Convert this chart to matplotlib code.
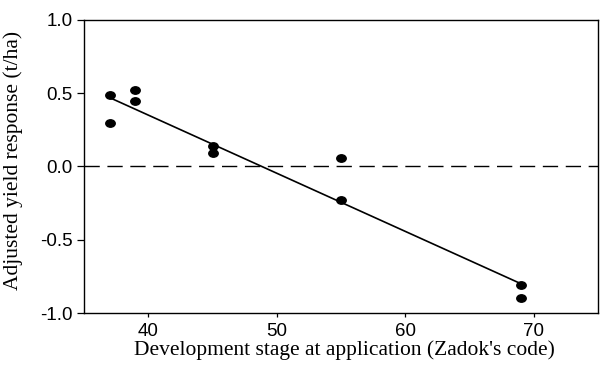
import numpy as np
import matplotlib
matplotlib.use("Agg")
import matplotlib.pyplot as plt
from matplotlib.path import Path

# Data
stage = [37, 37, 39, 39, 45, 45, 55, 55, 69, 69]
response = [0.49, 0.30, 0.52, 0.45, 0.14, 0.09, 0.06, -0.23, -0.81, -0.90]
fit_stage = [37, 69]
fit_response = [0.47, -0.80]
xticks = [40, 50, 60, 70]
yticks = [-1.0, -0.5, 0.0, 0.5, 1.0]
ytick_labels = ["-1.0", "-0.5", "0.0", "0.5", "1.0"]
xlabel = "Development stage at application (Zadok's code)"
ylabel = "Adjusted yield response (t/ha)"

W, H = 602, 366
fig = plt.figure(figsize=(W / 100, H / 100), dpi=100)
ax = fig.add_axes([84 / W, 1 - 313 / H, (598 - 84) / W, (313 - 20) / H])

# ellipse marker (slightly wider than tall)
circ = Path.unit_circle()
ell = Path(circ.vertices * np.array([1.27, 1.0]), circ.codes)

ax.axhline(0, color="black", lw=1.0, dashes=(11, 5.5), zorder=1)
ax.plot(fit_stage, fit_response, color="black", lw=1.2, zorder=2)
ax.plot(stage, response, linestyle="none", marker=ell, markersize=6.8,
        color="black", zorder=3)

ax.set_xlim(35, 75)
ax.set_ylim(-1.0, 1.0)
ax.set_xticks(xticks)
ax.set_yticks(yticks)
ax.set_yticklabels(ytick_labels)

for s in ax.spines.values():
    s.set_linewidth(1.0)

ax.tick_params(axis="x", direction="out", length=3, width=0.9, pad=4.5,
               labelsize=13.5)
ax.tick_params(axis="y", direction="out", length=5, width=0.9, pad=3,
               labelsize=13.5)
for lab in ax.get_xticklabels() + ax.get_yticklabels():
    lab.set_fontfamily("Liberation Sans")

ax.set_xlabel(xlabel, fontfamily="Liberation Serif", fontsize=15.5)
ax.set_ylabel(ylabel, fontfamily="Liberation Serif", fontsize=15.5)
ax.xaxis.set_label_coords(0.506, -0.093)
ax.yaxis.set_label_coords(-0.119, 0.52)

fig.savefig("out.png", dpi=100)
